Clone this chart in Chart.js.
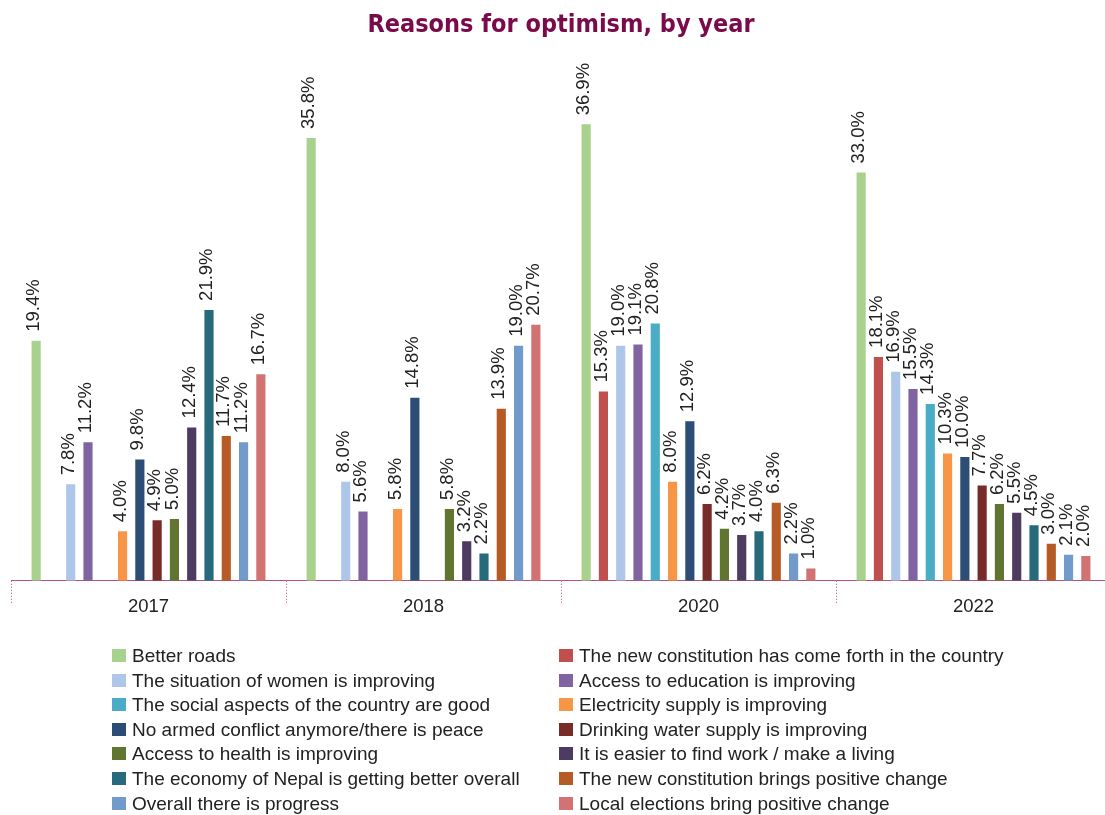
<!DOCTYPE html>
<html>
<head>
<meta charset="utf-8">
<script src="https://cdn.jsdelivr.net/npm/chart.js@4/dist/chart.umd.min.js"></script>
<style>
    html, body { margin: 0; padding: 0; background: #fff; overflow: hidden; }
    #wrap { position: relative; width: 1105px; height: 815px; }
    #chart-box { position: absolute; left: 0; top: 0; width: 1115px; height: 646px; }
    #legend { position: absolute; left: 0; top: 0; width: 1105px; height: 815px; pointer-events: none; }
    .item { position: absolute; font: 19px "Liberation Sans", Arial, sans-serif; color: #222; white-space: nowrap; line-height: 22px; }
    .item span { position: absolute; width: 14px; height: 13px; top: 4px; }
</style>
</head>
<body>
<div id="wrap">
    <div id="chart-box"><canvas id="graph"></canvas></div>
    <div id="legend"></div>
</div>
<script>
// Years on the x axis
const years = ['2017', '2018', '2020', '2022'];

// Reasons, in legend order (left column, right column, row by row)
const reasons = [
    'Better roads',
    'The new constitution has come forth in the country',
    'The situation of women is improving',
    'Access to education is improving',
    'The social aspects of the country are good',
    'Electricity supply is improving',
    'No armed conflict anymore/there is peace',
    'Drinking water supply is improving',
    'Access to health is improving',
    'It is easier to find work / make a living',
    'The economy of Nepal is getting better overall',
    'The new constitution brings positive change',
    'Overall there is progress',
    'Local elections bring positive change'
];

// Percent per reason, one value per year (null = not asked that year)
const betterRoads      = [19.4, 35.8, 36.9, 33.0];
const constitutionNew  = [null, null, 15.3, 18.1];
const womenSituation   = [7.8, 8.0, 19.0, 16.9];
const education        = [11.2, 5.6, 19.1, 15.5];
const socialAspects    = [null, null, 20.8, 14.3];
const electricity      = [4.0, 5.8, 8.0, 10.3];
const noConflict       = [9.8, 14.8, 12.9, 10.0];
const drinkingWater    = [4.9, null, 6.2, 7.7];
const health           = [5.0, 5.8, 4.2, 6.2];
const easierWork       = [12.4, 3.2, 3.7, 5.5];
const economy          = [21.9, 2.2, 4.0, 4.5];
const constitutionGood = [11.7, 13.9, 6.3, 3.0];
const progress         = [11.2, 19.0, 2.2, 2.1];
const localElections   = [16.7, 20.7, 1.0, 2.0];

const seriesValues = [
    betterRoads, constitutionNew, womenSituation, education, socialAspects,
    electricity, noConflict, drinkingWater, health, easierWork,
    economy, constitutionGood, progress, localElections
];

const colors = [
    '#a9d18e', '#c0504d', '#aec7e8', '#8064a2', '#4bacc6',
    '#f79646', '#2c4d75', '#772c2a', '#5f7530', '#4d3b62',
    '#276a7c', '#b65a26', '#729aca', '#d27272'
];

const labelFont = '18.5px "Liberation Sans", Arial, sans-serif';
const axisColor = '#b5517f';

// Rotated value labels above every bar
const barLabels = {
    id: 'barLabels',
    afterDatasetsDraw (chart) {
        const ctx = chart.ctx;
        ctx.save();
        ctx.font = labelFont;
        ctx.fillStyle = '#222';
        ctx.textAlign = 'left';
        ctx.textBaseline = 'middle';
        chart.data.datasets.forEach((ds, i) => {
            chart.getDatasetMeta(i).data.forEach((bar, j) => {
                const v = ds.data[j];
                if (v == null) return;
                ctx.save();
                ctx.translate(bar.x - 2, bar.y - 9);
                ctx.rotate(-Math.PI / 2);
                ctx.fillText(v.toFixed(1) + '%', 0, 0);
                ctx.restore();
            });
        });
        ctx.restore();
    }
};

// Dotted separators between the year groups, hanging below the axis
const yearSeparators = {
    id: 'yearSeparators',
    afterDraw (chart) {
        const xScale = chart.scales.x;
        const ctx = chart.ctx;
        const bottom = chart.chartArea.bottom;
        const half = (xScale.getPixelForValue(1) - xScale.getPixelForValue(0)) / 2;
        ctx.save();
        ctx.strokeStyle = axisColor;
        ctx.lineWidth = 1;
        ctx.setLineDash([1, 2]);
        for (let i = 0; i <= years.length; i++) {
            const x = Math.round(xScale.getPixelForValue(i) - half) + 0.5;
            ctx.beginPath();
            ctx.moveTo(x, bottom);
            ctx.lineTo(x, bottom + 23);
            ctx.stroke();
        }
        ctx.restore();
    }
};

const datasets = reasons.map((name, i) => ({
    label: name,
    data: seriesValues[i],
    backgroundColor: colors[i],
    borderWidth: 0,
    categoryPercentage: 0.88,
    barPercentage: 0.53
}));

const graph = document.getElementById('graph');
const chart = new Chart(graph, {
    type: 'bar',
    data: { labels: years, datasets: datasets },
    options: {
        responsive: true,
        maintainAspectRatio: false,
        animation: false,
        layout: { padding: { left: 11, right: 4, top: 0, bottom: 13 } },
        plugins: {
            legend: { display: false },
            tooltip: { enabled: false },
            title: {
                display: true,
                text: 'Reasons for optimism, by year',
                color: '#7a0a4a',
                font: { family: '"Liberation Sans Narrow", "DejaVu Sans Condensed", sans-serif', size: 25, weight: 'bold' },
                padding: { top: 10, bottom: 46 }
            }
        },
        scales: {
            x: {
                grid: { display: false, drawTicks: false },
                border: { display: true, color: axisColor, dash: [1, 2], width: 1 },
                ticks: {
                    color: '#222',
                    padding: 15,
                    font: { family: '"Liberation Sans", Arial, sans-serif', size: 18.5 }
                }
            },
            y: {
                display: false,
                min: 0,
                max: 40
            }
        }
    },
    plugins: [barLabels, yearSeparators]
});

// Two column legend built from the datasets
const $legend = document.getElementById('legend');
chart.data.datasets.forEach((ds, i) => {
    const col = i % 2;
    const row = Math.floor(i / 2);
    const item = document.createElement('div');
    item.className = 'item';
    item.style.left = (col === 0 ? 132 : 579) + 'px';
    item.style.top = (645 + row * 24.6) + 'px';
    item.innerHTML = `<span style="left:-20px;background:${ds.backgroundColor}"></span>${ds.label}`;
    $legend.appendChild(item);
});
</script>
</body>
</html>
